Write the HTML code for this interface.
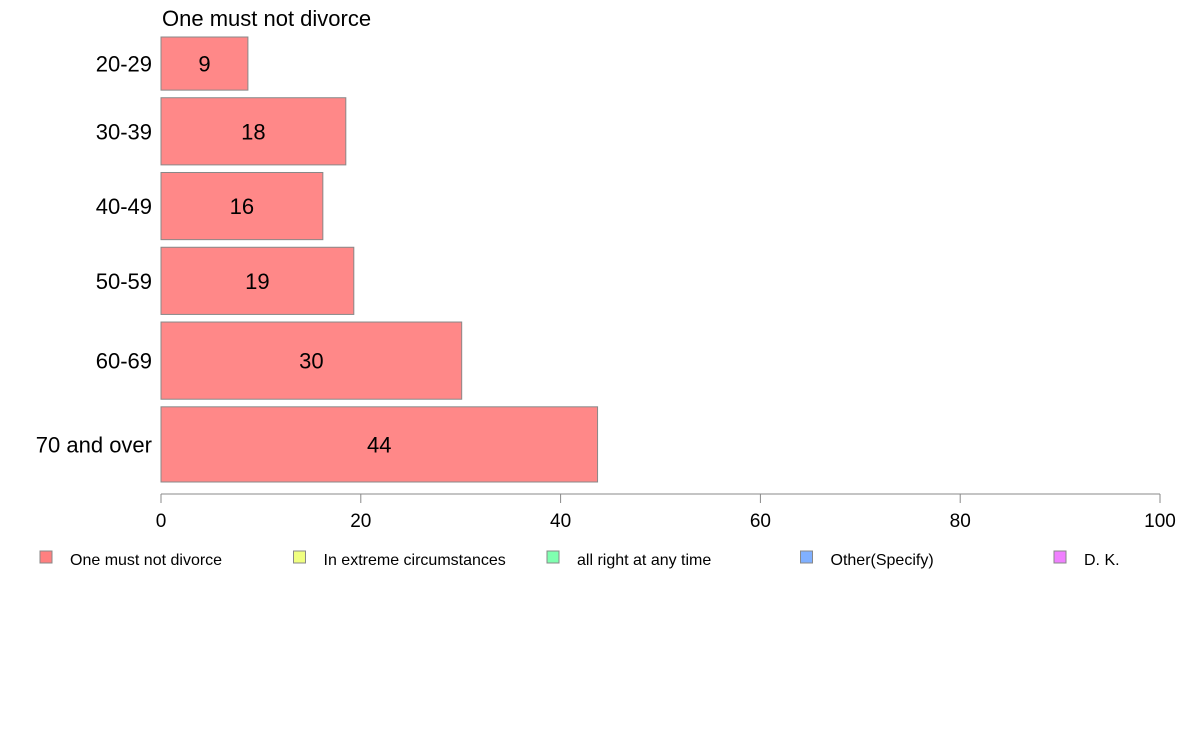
<!DOCTYPE html>
<html><head><meta charset="utf-8"><style>body{margin:0;background:#fff}svg{display:block;font-family:"Liberation Sans",Arial,sans-serif}</style></head>
<body>
<svg id="chart" width="1188" height="736" xmlns="http://www.w3.org/2000/svg">
<text x="162" y="26" font-size="22" fill="#000">One must not divorce</text>
<g id="bars"></g><g id="axis"></g><g id="legend"></g>
</svg>
<script>
const categories=["20-29","30-39","40-49","50-59","60-69","70 and over"];
const values=[8.7,18.5,16.2,19.3,30.1,43.7];
const valueLabels=["9","18","16","19","30","44"];
const weights=[53,67,67,67,77,75];
const ticks=[0,20,40,60,80,100];
const legendLabels=["One must not divorce","In extreme circumstances","all right at any time","Other(Specify)","D. K."];
const legendColors=["#ff8080","#f0ff80","#80ffb0","#80b0ff","#f080ff"];
const NS="http://www.w3.org/2000/svg";
const x0=161,x1=1160,barTop=37,gap=7.6,barBottom=482;
const xs=v=>x0+(x1-x0)*v/100;
const total=weights.reduce((a,b)=>a+b,0);
const unit=(barBottom-barTop-gap*(weights.length-1))/total;
function mk(t,a,p){const e=document.createElementNS(NS,t);for(const k in a)e.setAttribute(k,a[k]);p.appendChild(e);return e;}
const bars=document.getElementById('bars');
let yy=barTop;
categories.forEach((c,i)=>{
  const h=weights[i]*unit;
  const r=mk('rect',{x:x0,y:yy,width:xs(values[i])-x0,height:h,fill:"#ff8888",stroke:"#888",'stroke-width':1},bars);
  
  
  const t=mk('text',{x:(x0+xs(values[i]))/2,y:yy+h/2+8,'font-size':22,'text-anchor':'middle'},bars);
  t.textContent=valueLabels[i];
  
  
  const l=mk('text',{x:152,y:yy+h/2+8,'font-size':22,'text-anchor':'end'},bars);
  l.textContent=c;
  
  
  yy+=h+gap;
});
const ax=document.getElementById('axis');
const al=mk('line',{x1:x0,x2:x1,y1:494,y2:494,stroke:"#888"},ax);


ticks.forEach(v=>{
  mk('line',{x1:xs(v),x2:xs(v),y1:494,y2:503,stroke:"#888"},ax);
  const t=mk('text',{x:xs(v),y:527,'font-size':19,'text-anchor':'middle'},ax);
  t.textContent=v;
  
  
});
const lg=document.getElementById('legend');
legendLabels.forEach((s,i)=>{
  const lx=40+i*253.5;
  const r=mk('rect',{x:lx,y:551,width:12,height:12,fill:legendColors[i],stroke:"#888"},lg);
  
  
  const t=mk('text',{x:lx+30,y:565,'font-size':16},lg);
  t.textContent=s;
  
  
});
</script>
</body></html>
